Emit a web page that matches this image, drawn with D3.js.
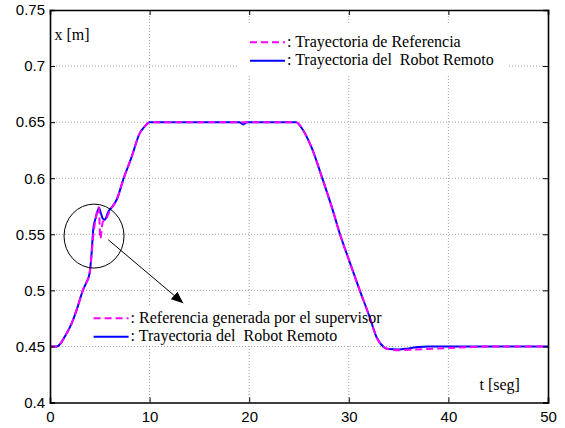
<!DOCTYPE html>
<html>
<head>
<meta charset="utf-8">
<script src="https://cdn.jsdelivr.net/npm/d3@7"></script>
<style>
  body { margin: 0; background: #fff; }
  svg { display: block; }
</style>
</head>
<body>
<script>
// reference trajectory (magenta, dashed)
var refT = [0, 0.7, 1.0, 1.5, 2.2, 2.8, 3.3, 3.6, 4.0, 4.2, 4.4, 4.6, 4.9, 5.05, 5.3, 5.6, 6.0, 6.7, 7.4, 8.2, 9.0, 9.5, 10.0,
            24.7, 25.4, 26.3, 27.3, 28.3, 29.1, 30.1, 31.1, 32.1, 32.8, 33.5, 34.0, 35.0, 36.0, 38.0, 40.0, 42.0, 45.0, 50.0];
var refX = [0.45, 0.45, 0.452, 0.459, 0.471, 0.486, 0.5, 0.506, 0.516, 0.535, 0.553, 0.565, 0.574, 0.546, 0.561, 0.563, 0.571, 0.581, 0.6, 0.619, 0.64, 0.646, 0.65,
            0.65, 0.643, 0.6265, 0.601, 0.574, 0.5505, 0.525, 0.5, 0.476, 0.458, 0.4495, 0.4475, 0.4466, 0.447, 0.4478, 0.4485, 0.4493, 0.45, 0.45];

// remote robot trajectory (blue, solid)
var robT = [0, 0.7, 1.0, 1.5, 2.2, 2.8, 3.3, 3.6, 3.95, 4.15, 4.35, 4.6, 4.92, 5.1, 5.3, 5.5, 5.85, 6.3, 6.7, 7.4, 8.2, 9.0, 9.5, 10.0,
            19.0, 19.4, 19.8, 24.7, 25.4, 26.3, 27.3, 28.3, 29.1, 30.1, 31.1, 32.1, 32.8, 33.5, 34.0, 35.0, 36.0, 37.0, 38.0, 50.0];
var robX = [0.45, 0.45, 0.452, 0.459, 0.471, 0.486, 0.5, 0.506, 0.514, 0.53, 0.555, 0.565, 0.5737, 0.569, 0.564, 0.563, 0.57, 0.575, 0.581, 0.6, 0.619, 0.64, 0.646, 0.65,
            0.65, 0.648, 0.65, 0.65, 0.643, 0.6265, 0.601, 0.574, 0.5505, 0.525, 0.5, 0.476, 0.458, 0.4495, 0.4476, 0.4472, 0.4482, 0.4495, 0.45, 0.45];

var xTicks = [0, 10, 20, 30, 40, 50];
var yTicks = [0.4, 0.45, 0.5, 0.55, 0.6, 0.65, 0.7, 0.75];
var yTickLabels = ["0.4", "0.45", "0.5", "0.55", "0.6", "0.65", "0.7", "0.75"];

var legendTop = [": Trayectoria de Referencia", ": Trayectoria del  Robot Remoto"];
var legendBottom = [": Referencia generada por el supervisor", ": Trayectoria del  Robot Remoto"];

// annotation: circle round the supervisor correction and arrow towards the lower legend
var circleAt = [4.42, 0.5484];
var arrowFrom = [5.85, 0.5451];
var arrowTo = [13.38, 0.4886];

var W = 565, H = 428;
var margin = { top: 10, right: 17, bottom: 25.5, left: 50 },
    width = W - margin.left - margin.right,
    height = H - margin.top - margin.bottom;

var svg = d3.select("body").append("svg")
    .attr("width", W)
    .attr("height", H);

var g = svg.append("g")
    .attr("transform", "translate(" + margin.left + "," + margin.top + ")");

var x = d3.scaleLinear().domain([0, 50]).range([0, width]);
var y = d3.scaleLinear().domain([0.4, 0.75]).range([height, 0]);

var serif = "'Liberation Serif', 'Times New Roman', serif";
var sans = "'Liberation Sans', Arial, sans-serif";

// grid
g.append("g").selectAll("line")
    .data(xTicks.slice(1, -1))
    .enter().append("line")
    .attr("x1", d => x(d)).attr("x2", d => x(d))
    .attr("y1", 0).attr("y2", height)
    .attr("stroke", "#888").attr("stroke-width", 0.8)
    .attr("stroke-dasharray", "1,2");

g.append("g").selectAll("line")
    .data(yTicks.slice(1, -1))
    .enter().append("line")
    .attr("x1", 0).attr("x2", width)
    .attr("y1", d => y(d)).attr("y2", d => y(d))
    .attr("stroke", "#888").attr("stroke-width", 0.8)
    .attr("stroke-dasharray", "1,2");

// legend backgrounds hide the grid
g.append("rect")
    .attr("x", 187).attr("y", 15).attr("width", 272).attr("height", 50)
    .attr("fill", "#fff");
g.append("rect")
    .attr("x", 35).attr("y", 295).attr("width", 297).attr("height", 39)
    .attr("fill", "#fff");

// curves
var line = d3.line()
    .x(d => x(d[0]))
    .y(d => y(d[1]))
    .curve(d3.curveMonotoneX);

var robData = robT.map((t, i) => [t, robX[i]]);
var refData = refT.map((t, i) => [t, refX[i]]);

g.append("path")
    .datum(robData)
    .attr("d", line)
    .attr("fill", "none")
    .attr("stroke", "#0000ff")
    .attr("stroke-width", 2);

g.append("path")
    .datum(refData)
    .attr("d", line)
    .attr("fill", "none")
    .attr("stroke", "#ff00ff")
    .attr("stroke-width", 2)
    .attr("stroke-dasharray", "7,4");

// axes (box with inward ticks)
var xAxis = d3.axisBottom(x).tickValues(xTicks).tickSize(-5).tickPadding(9);
var yAxis = d3.axisLeft(y).tickValues(yTicks).tickSize(-5).tickPadding(9)
    .tickFormat((d, i) => yTickLabels[i]);

var gx = g.append("g").attr("transform", "translate(0," + height + ")").call(xAxis);
var gy = g.append("g").call(yAxis);
g.append("g").attr("transform", "translate(0,0)")
    .call(d3.axisTop(x).tickValues(xTicks).tickSize(-5).tickFormat(""));
g.append("g").attr("transform", "translate(" + width + ",0)")
    .call(d3.axisRight(y).tickValues(yTicks).tickSize(-5).tickFormat(""));

g.selectAll(".domain").attr("stroke", "#000").attr("stroke-width", 1.6);
g.selectAll(".tick line").attr("stroke", "#000").attr("stroke-width", 1);
g.selectAll(".tick text")
    .attr("fill", "#000")
    .style("font-family", sans)
    .style("font-size", "15px");
gy.selectAll(".tick text").attr("x", -5);

// axis labels
g.append("text")
    .attr("x", 4.5).attr("y", 29.5)
    .style("font-family", serif).style("font-size", "16px")
    .text("x [m]");
g.append("text")
    .attr("x", 429.5).attr("y", 380)
    .style("font-family", serif).style("font-size", "16px")
    .text("t [seg]");

// legends
function drawLegend(x0, y0, labels) {
    var row = 18.5;
    labels.forEach((label, i) => {
        g.append("line")
            .attr("x1", x0).attr("x2", x0 + 35)
            .attr("y1", y0 + i * row).attr("y2", y0 + i * row)
            .attr("stroke", i == 0 ? "#ff00ff" : "#0000ff")
            .attr("stroke-width", 2)
            .attr("stroke-dasharray", i == 0 ? "7,4" : null);
        g.append("text")
            .attr("x", x0 + 37).attr("y", y0 + i * row + 4.5)
            .style("font-family", serif).style("font-size", "16px")
            .style("white-space", "pre")
            .text(label);
    });
}
drawLegend(200, 32.3, legendTop);
drawLegend(43.6, 308.3, legendBottom);

// annotation
g.append("ellipse")
    .attr("cx", x(circleAt[0])).attr("cy", y(circleAt[1]))
    .attr("rx", 30).attr("ry", 32)
    .attr("fill", "none").attr("stroke", "#000").attr("stroke-width", 1);

svg.append("defs").append("marker")
    .attr("id", "head")
    .attr("viewBox", "0 0 12 10")
    .attr("refX", 12).attr("refY", 5)
    .attr("markerWidth", 12).attr("markerHeight", 10)
    .attr("markerUnits", "userSpaceOnUse")
    .attr("orient", "auto")
    .append("path")
    .attr("d", "M0,0L12,5L0,10Z")
    .attr("fill", "#000");

g.append("line")
    .attr("x1", x(arrowFrom[0])).attr("y1", y(arrowFrom[1]))
    .attr("x2", x(arrowTo[0])).attr("y2", y(arrowTo[1]))
    .attr("stroke", "#000").attr("stroke-width", 1)
    .attr("marker-end", "url(#head)");
</script>
</body>
</html>
